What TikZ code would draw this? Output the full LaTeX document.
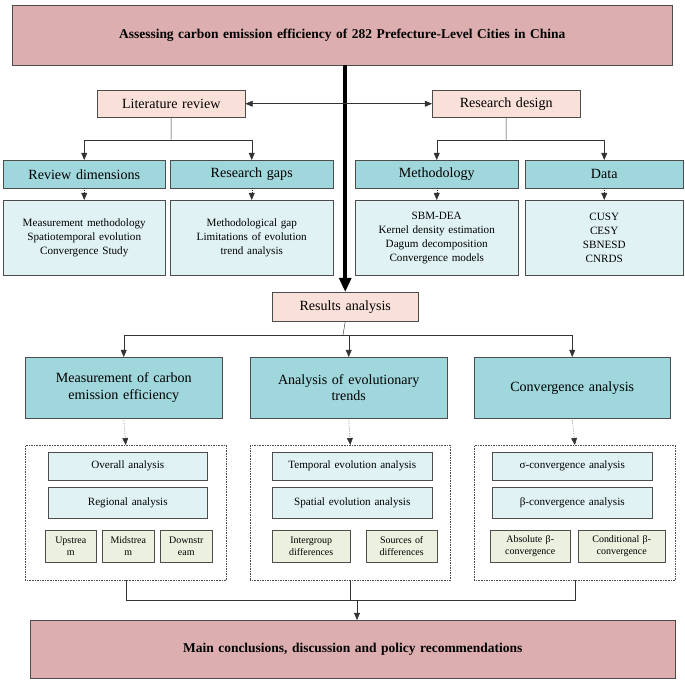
\documentclass[tikz,border=0pt]{standalone}
\usepackage{fontspec}
\setmainfont{Liberation Serif}
\usetikzlibrary{arrows.meta}
\definecolor{titlepink}{HTML}{DDAEAF}
\definecolor{lightpink}{HTML}{F9E1D9}
\definecolor{teal}{HTML}{9FD7DC}
\definecolor{lightcyan}{HTML}{E0F2F3}
\definecolor{lightgreen}{HTML}{EBF1DE}
\tikzset{
	base/.style={draw=black!70,align=center,inner sep=1pt},
	title/.style={base,fill=titlepink,font=\fontsize{11.5}{13}\selectfont\bfseries},
	stage/.style={base,fill=lightpink,font=\fontsize{12}{14}\selectfont},
	head/.style={base,fill=teal,font=\fontsize{12}{14}\selectfont},
	item/.style={base,fill=lightcyan,font=\fontsize{9.5}{12}\selectfont},
	sub/.style={base,fill=lightgreen,font=\fontsize{8.5}{10.5}\selectfont},
	group/.style={draw=black!70,densely dotted},
	arr/.style={-{Triangle[length=6pt,width=5pt]},black!80},
	darr/.style={arr,densely dotted},
}
% box from corner (x1,y1) to (x2,y2), in pixels
\newcommand{\bx}[7]{\node[#2,anchor=north west,minimum width={(#5-#3)*0.03cm},
	minimum height={(#6-#4)*0.03cm},text width={(#5-#3)*0.03cm-4pt}] (#1) at (#3,#4) {#7};}
\begin{document}
\begin{tikzpicture}[x=0.03cm,y=-0.03cm]
	\useasboundingbox (0,0) rectangle (685,683);
	% boxes
	\bx{main}{title}{12}{5}{672}{65}{Assessing carbon emission efficiency of 282 Prefecture-Level Cities in China}
	\bx{lit}{stage}{97}{90}{245}{117}{Literature review}
	\bx{design}{stage}{432}{90}{580}{117}{Research design}
	\bx{dim}{head}{3}{160}{165}{188}{Review dimensions}
	\bx{gap}{head}{170}{160}{333}{188}{Research gaps}
	\bx{meth}{head}{355}{160}{518}{188}{Methodology}
	\bx{data}{head}{525}{160}{683}{188}{Data}
	\bx{dimc}{item}{3}{200}{165}{275}{Measurement methodology\\Spatiotemporal evolution\\Convergence Study}
	\bx{gapc}{item}{170}{200}{333}{275}{Methodological gap\\Limitations of evolution\\trend analysis}
	\bx{methc}{item}{355}{200}{518}{275}{SBM-DEA\\Kernel density estimation\\Dagum decomposition\\Convergence models}
	\bx{datac}{item}{525}{200}{683}{275}{CUSY\\CESY\\SBNESD\\CNRDS}
	\bx{res}{stage}{272}{292}{418}{321}{Results analysis}
	\bx{meas}{head}{25}{357}{222}{418}{Measurement of carbon\\emission efficiency}
	\bx{evo}{head}{250}{357}{447}{418}{Analysis of evolutionary\\trends}
	\bx{conv}{head}{474}{357}{670}{418}{Convergence analysis}
	\bx{g1}{group}{25}{445}{223}{580}{}
	\bx{g2}{group}{250}{445}{447}{580}{}
	\bx{g3}{group}{474}{445}{672}{580}{}
	\bx{overall}{item}{48}{452}{207}{480}{Overall analysis}
	\bx{region}{item}{48}{487}{207}{518}{Regional analysis}
	\bx{up}{sub}{45}{530}{96}{562}{Upstrea\\m}
	\bx{mid}{sub}{102}{530}{154}{562}{Midstrea\\m}
	\bx{down}{sub}{160}{530}{212}{562}{Downstr\\eam}
	\bx{temp}{item}{272}{452}{432}{480}{Temporal evolution analysis}
	\bx{spat}{item}{272}{487}{432}{518}{Spatial evolution analysis}
	\bx{inter}{sub}{272}{530}{350}{562}{Intergroup\\differences}
	\bx{src}{sub}{366}{530}{437}{562}{Sources of\\differences}
	\bx{sigma}{item}{492}{452}{652}{480}{σ-convergence analysis}
	\bx{beta}{item}{492}{487}{652}{518}{β-convergence analysis}
	\bx{abs}{sub}{490}{530}{570}{562}{Absolute β-\\convergence}
	\bx{cond}{sub}{578}{530}{665}{562}{Conditional β-\\convergence}
	\bx{final}{title}{30}{620}{675}{678}{Main conclusions, discussion and policy recommendations}
	% connectors
	\coordinate (s1) at (343,335);
	\coordinate (s2) at (357,600);
	\coordinate (l1) at (171,140);
	\coordinate (r1) at (506,140);
	\draw[line width=3pt,-{Triangle[length=12pt,width=10pt]}] (main.south -| res.north) -- (res.north);
	\draw[{Triangle[length=6pt,width=5pt]}-{Triangle[length=6pt,width=5pt]},black!80] (lit) -- (design);
	\draw[black!80] (lit.south) -- (l1);
	\draw[arr] (l1) -| (dim.north);
	\draw[arr] (l1) -| (gap.north);
	\draw[black!80] (design.south) -- (r1);
	\draw[arr] (r1) -| (meth.north);
	\draw[arr] (r1) -| (data.north);
	\foreach \a/\b in {dim/dimc,gap/gapc,meth/methc,data/datac,meas/g1,evo/g2,conv/g3}
		\draw[darr] (\a.south) -- (\b.north);
	\draw[black!80] (res.south) -- (s1);
	\foreach \t in {meas,evo,conv}
		\draw[arr] (s1) -| (\t.north);
	\foreach \g in {g1,g2,g3}
		\draw[black!80] (\g.south) |- (s2);
	\draw[arr] (s2) -- (final.north -| s2);
\end{tikzpicture}
\end{document}
